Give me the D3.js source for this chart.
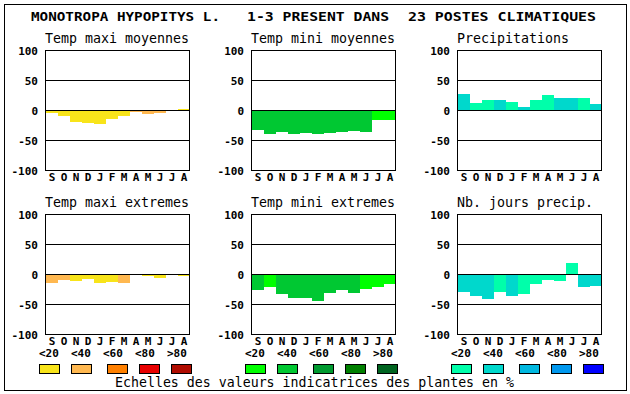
<!DOCTYPE html>
<html>
<head>
<meta charset="utf-8">
<script src="https://cdn.jsdelivr.net/npm/d3@7/dist/d3.min.js"></script>
<style>
  html, body { margin: 0; padding: 0; background: #fff; }
  svg { display: block; }
</style>
</head>
<body>
<svg id="chart" width="630" height="394"></svg>
<script>
// ---------- DATA ----------
const months = ["S","O","N","D","J","F","M","A","M","J","J","A"];
const yTicks = [100, 50, 0, -50, -100];
const classLabels = ["<20", "<40", "<60", "<80", ">80"];

const warmColors  = ["#f8e41a", "#ffb850", "#ff8000", "#e80000", "#b00c00"];
const greenColors = ["#00ff00", "#00c832", "#009a30", "#008000", "#006420"];
const blueColors  = ["#00ffaa", "#00d8cc", "#00b8e0", "#0098ee", "#0000ff"];

const titleParts = ["MONOTROPA HYPOPITYS L.", "1-3 PRESENT DANS", "23 POSTES CLIMATIQUES"];
const panelTitles = ["Temp maxi moyennes", "Temp mini moyennes", "Precipitations",
                     "Temp maxi extremes", "Temp mini extremes", "Nb. jours precip."];
const legendTitle = "Echelles des valeurs indicatrices des plantes en %";

// values (%) and colour class (index into the scale) per month S..A
const maxiMoyValues  = [-5, -10, -20, -22, -24, -15, -10, -4, -7, -5, -2, 2];
const maxiMoyClass   = [0, 0, 0, 0, 0, 0, 0, 1, 1, 1, 0, 0];
const miniMoyValues  = [-33, -40, -36, -40, -38, -40, -38, -36, -35, -36, -16, -16];
const miniMoyClass   = [1, 1, 1, 1, 1, 1, 1, 1, 1, 1, 0, 0];
const precipValues   = [27, 12, 17, 16, 14, 5, 16, 25, 20, 20, 20, 10];
const precipClass    = [1, 0, 0, 1, 0, 1, 0, 0, 1, 1, 0, 1];
const maxiExtValues  = [-15, -10, -12, -8, -15, -14, -15, -2, -4, -7, -2, -4];
const maxiExtClass   = [1, 1, 0, 0, 0, 0, 1, 0, 0, 0, 0, 0];
const miniExtValues  = [-27, -22, -34, -40, -40, -45, -32, -27, -32, -25, -22, -16];
const miniExtClass   = [1, 0, 1, 1, 1, 1, 1, 1, 1, 0, 0, 0];
const joursValues    = [-30, -37, -42, -30, -37, -34, -17, -10, -12, 18, -22, -20];
const joursClass     = [1, 1, 1, 0, 1, 0, 0, 0, 0, 0, 1, 1];

// ---------- LAYOUT ----------
const colX = [45, 251, 457];
const rowY = [50, 214];
const plotW = 144, plotH = 120;
const boldFont = "'DejaVu Sans Mono', monospace";

const panels = [
  {title: panelTitles[0], values: maxiMoyValues, cls: maxiMoyClass, colors: warmColors,  col: 0, row: 0},
  {title: panelTitles[1], values: miniMoyValues, cls: miniMoyClass, colors: greenColors, col: 1, row: 0},
  {title: panelTitles[2], values: precipValues,  cls: precipClass,  colors: blueColors,  col: 2, row: 0},
  {title: panelTitles[3], values: maxiExtValues, cls: maxiExtClass, colors: warmColors,  col: 0, row: 1},
  {title: panelTitles[4], values: miniExtValues, cls: miniExtClass, colors: greenColors, col: 1, row: 1},
  {title: panelTitles[5], values: joursValues,   cls: joursClass,   colors: blueColors,  col: 2, row: 1}
];

const svg = d3.select("#chart");
svg.append("rect").attr("width", 630).attr("height", 394).attr("fill", "#fff");

// outer frame
svg.append("rect")
  .attr("x", 4.5).attr("y", 4.5).attr("width", 622).attr("height", 385.5)
  .attr("fill", "none").attr("stroke", "#000").attr("stroke-width", 1)
  .attr("shape-rendering", "crispEdges");

// main title
const titleX = [[31, 220], [247, 389], [408, 596]];
titleParts.forEach((t, i) => {
  svg.append("text")
    .attr("x", titleX[i][0]).attr("y", 21)
    .attr("font-family", boldFont).attr("font-weight", "bold").attr("font-size", 12)
    .attr("textLength", titleX[i][1] - titleX[i][0]).attr("lengthAdjust", "spacingAndGlyphs")
    .text(t);
});

panels.forEach(p => {
  const x0 = colX[p.col], y0 = rowY[p.row];
  const x = d3.scaleBand().domain(d3.range(months.length)).range([x0, x0 + plotW]).padding(0);
  const y = d3.scaleLinear().domain([-100, 100]).range([y0 + plotH, y0]);
  const g = svg.append("g");

  // subtitle
  g.append("text")
    .attr("x", x0).attr("y", y0 - 7)
    .attr("font-family", boldFont).attr("font-size", 13.3)
    .attr("fill", "#000")
    .text(p.title);

  // box background
  g.append("rect")
    .attr("x", x0).attr("y", y0).attr("width", plotW).attr("height", plotH)
    .attr("fill", "#fff");

  // bars
  g.selectAll("rect.bar").data(p.values).enter().append("rect")
    .attr("class", "bar")
    .attr("x", (d, i) => x(i) + 1)
    .attr("width", x.bandwidth())
    .attr("y", d => Math.min(y(0), y(d)))
    .attr("height", d => Math.abs(y(d) - y(0)))
    .attr("fill", (d, i) => p.colors[p.cls[i]])
    .attr("shape-rendering", "crispEdges");

  // grid lines at 50, 0, -50
  g.selectAll("line.grid").data([50, 0, -50]).enter().append("line")
    .attr("x1", x0).attr("x2", x0 + plotW)
    .attr("y1", d => y(d) + 0.5).attr("y2", d => y(d) + 0.5)
    .attr("stroke", "#000").attr("stroke-width", 1)
    .attr("shape-rendering", "crispEdges");

  // box
  g.append("rect")
    .attr("x", x0 + 0.5).attr("y", y0 + 0.5).attr("width", plotW).attr("height", plotH)
    .attr("fill", "none").attr("stroke", "#000").attr("stroke-width", 1)
    .attr("shape-rendering", "crispEdges");

  // y axis labels
  const ya = g.append("g")
    .attr("transform", `translate(${x0},0.5)`)
    .call(d3.axisLeft(y).tickValues(yTicks).tickSize(0).tickPadding(7).tickFormat(d => String(d)));
  ya.select(".domain").remove();
  ya.selectAll("text")
    .attr("font-family", boldFont).attr("font-weight", "bold").attr("font-size", 11)
    .attr("fill", "#000");

  // month labels
  const xa = g.append("g")
    .attr("transform", `translate(1,${y0 + plotH})`)
    .call(d3.axisBottom(x).tickSize(0).tickPadding(3).tickFormat(i => months[i]));
  xa.select(".domain").remove();
  xa.selectAll("text")
    .attr("font-family", boldFont).attr("font-weight", "bold").attr("font-size", 11)
    .attr("fill", "#000");
});

// legends
const legendPalettes = [warmColors, greenColors, blueColors];
const boxOffsets = [0, 32, 68, 100, 132];
legendPalettes.forEach((pal, gi) => {
  const left = colX[gi] - 6;
  const lg = svg.append("g");
  lg.selectAll("text").data(classLabels).enter().append("text")
    .attr("x", (d, i) => left + 32 * i)
    .attr("y", 357)
    .attr("font-family", boldFont).attr("font-weight", "bold").attr("font-size", 11)
    .text(d => d);
  lg.selectAll("rect").data(pal).enter().append("rect")
    .attr("x", (d, i) => left + boxOffsets[i] + 0.5)
    .attr("y", 364.5)
    .attr("width", 20).attr("height", 9)
    .attr("fill", d => d)
    .attr("stroke", "#000").attr("stroke-width", 1)
    .attr("shape-rendering", "crispEdges");
});

svg.append("text")
  .attr("x", 115).attr("y", 387)
  .attr("font-family", boldFont).attr("font-size", 13.3)
  .attr("textLength", 399).attr("lengthAdjust", "spacingAndGlyphs")
  .text(legendTitle);
</script>
</body>
</html>
